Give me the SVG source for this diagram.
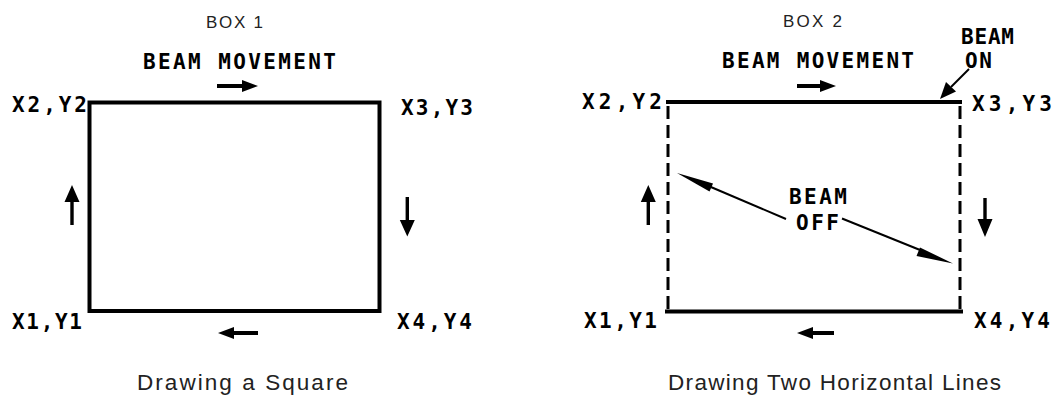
<svg xmlns="http://www.w3.org/2000/svg" width="1052" height="402" viewBox="0 0 1052 402">
<style>
.ttl{font-family:"Liberation Sans",Arial,sans-serif;font-size:17px;fill:#222}
.cap{font-family:"Liberation Sans",Arial,sans-serif;font-size:22.5px;fill:#222}
.lbl{font-family:"DejaVu Sans Mono","Liberation Mono",monospace;font-weight:bold;font-size:21px;fill:#000}
.edge{fill:none;stroke:#000;stroke-width:4}
.dash{fill:none;stroke:#000;stroke-width:3;stroke-dasharray:13 6}
.arr{fill:#000;stroke:none}
.thin{stroke:#000;stroke-width:2;fill:none}
</style>
<rect width="1052" height="402" fill="#fff"/>
<g id="box1">
<text class="ttl" x="206" y="28" textLength="57" lengthAdjust="spacing">BOX 1</text>
<text class="lbl" x="143" y="69" textLength="193" lengthAdjust="spacing">BEAM MOVEMENT</text>
<rect class="edge" x="89.5" y="102.5" width="290" height="208.5"/>
<text class="lbl" x="12" y="112" textLength="75" lengthAdjust="spacing">X2,Y2</text>
<text class="lbl" x="401" y="115" textLength="72" lengthAdjust="spacing">X3,Y3</text>
<text class="lbl" x="12" y="329" textLength="70" lengthAdjust="spacing">X1,Y1</text>
<text class="lbl" x="397" y="329" textLength="75" lengthAdjust="spacing">X4,Y4</text>
<text class="cap" x="137" y="390" textLength="211" lengthAdjust="spacing">Drawing a Square</text>
</g>
<g id="box2">
<text class="ttl" x="783" y="27" textLength="59" lengthAdjust="spacing">BOX 2</text>
<text class="lbl" x="722" y="68" textLength="192" lengthAdjust="spacing">BEAM MOVEMENT</text>
<line class="edge" x1="666" y1="102" x2="962" y2="102" stroke-width="3.5"/>
<line class="edge" x1="665" y1="311.5" x2="963" y2="311.5" stroke-width="3.5"/>
<line class="dash" x1="668" y1="106" x2="668" y2="309"/>
<line class="dash" x1="960" y1="106" x2="960" y2="309"/>
<text class="lbl" x="582" y="109" textLength="80" lengthAdjust="spacing">X2,Y2</text>
<text class="lbl" x="972" y="111" textLength="80" lengthAdjust="spacing">X3,Y3</text>
<text class="lbl" x="584" y="328" textLength="73" lengthAdjust="spacing">X1,Y1</text>
<text class="lbl" x="974" y="328" textLength="76" lengthAdjust="spacing">X4,Y4</text>
<text class="lbl" x="961" y="44" textLength="53" lengthAdjust="spacing">BEAM</text>
<text class="lbl" x="965" y="68" textLength="27" lengthAdjust="spacing">ON</text>
<text class="lbl" x="789" y="204" textLength="58" lengthAdjust="spacing">BEAM</text>
<text class="lbl" x="796" y="230" textLength="43" lengthAdjust="spacing">OFF</text>
<text class="cap" x="668" y="390" textLength="333" lengthAdjust="spacing">Drawing Two Horizontal Lines</text>
</g>
<g id="connectors">
<path class="arr" d="M217,84 H242 V80 L258,86 L242,92 V88 H217 Z"/>
<path class="arr" d="M258,331 H234 V327 L218,333 L234,339 V335 H258 Z"/>
<path class="arr" d="M70.3,225 V202 H64.5 L72,185 L79.5,202 H73.7 V225 Z"/>
<path class="arr" d="M405.6,197 V220 H399.8 L407.3,236.5 L414.8,220 H409 V197 Z"/>
<path class="arr" d="M797,84 H820 V80 L836,86 L820,92 V88 H797 Z"/>
<path class="arr" d="M834,331 H813 V327 L797,333 L813,339 V335 H834 Z"/>
<path class="arr" d="M646.6,225 V202 H640.8 L648.3,185 L655.8,202 H650 V225 Z"/>
<path class="arr" d="M983.3,198 V219 H977.5 L985,237 L992.5,219 H986.7 V198 Z"/>
<line class="thin" x1="786" y1="219" x2="705" y2="184.5"/>
<path class="arr" d="M677,173 L713,183.5 L709.5,191.5 Z"/>
<line class="thin" x1="842" y1="218.5" x2="925" y2="252"/>
<path class="arr" d="M953,263.5 L916.5,256 L920,247.5 Z"/>
<line class="thin" x1="969" y1="69" x2="951" y2="87" stroke-width="2.5"/>
<path class="arr" d="M940,99 L946,82 L956,91.5 Z"/>
</g>
</svg>
